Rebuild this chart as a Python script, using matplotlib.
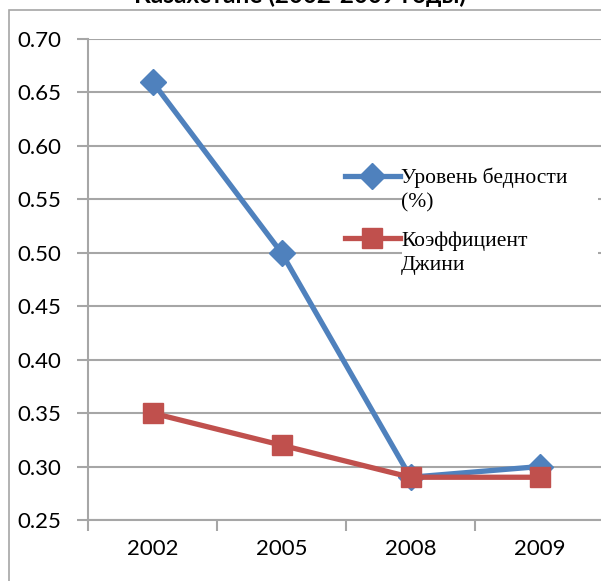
import matplotlib.pyplot as plt
from matplotlib.patches import Rectangle

years = ['2002', '2005', '2008', '2009']
poverty = [0.66, 0.50, 0.29, 0.30]
gini = [0.35, 0.32, 0.29, 0.29]
yticks = [0.25, 0.30, 0.35, 0.40, 0.45, 0.50, 0.55, 0.60, 0.65, 0.70]
labels = [('Уровень бедности', '(%)'), ('Коэффициент', 'Джини')]

blue = '#4F81BD'
red = '#C0504D'
grid = '#A6A6A6'

plt.rcParams['font.family'] = ['Lato', 'DejaVu Sans']

fig = plt.figure(figsize=(6.01, 5.81), dpi=100)
ax = fig.add_axes([88 / 601, 1 - 520 / 581, 516 / 601, 481 / 581])

x = list(range(len(years)))
ax.plot(x, poverty, color=blue, lw=3.8, marker='D', ms=13.5, label=labels[0][0], zorder=3)
ax.plot(x, gini, color=red, lw=3.8, marker='s', ms=14.5, label=labels[1][0], zorder=3)

ax.set_xlim(-0.5, 3.5)
ax.set_ylim(0.25, 0.70)
ax.set_yticks(yticks)
ax.set_yticklabels(['%.2f' % v for v in yticks])
ax.set_xticks([-0.5, 0.5, 1.5, 2.5, 3.5])
ax.set_xticklabels([])
ax.set_xticks(x, minor=True)
ax.set_xticklabels(years, minor=True)
ax.tick_params(axis='x', which='minor', length=0, pad=14, labelsize=16)
ax.tick_params(axis='x', which='major', length=8, width=1.5, color=grid)
ax.tick_params(axis='y', length=8, width=1.5, color=grid, labelsize=16, pad=11)
ax.yaxis.grid(True, color=grid, lw=1.5)
ax.set_axisbelow(True)
for s in ['top', 'right']:
    ax.spines[s].set_visible(False)
for s in ['left', 'bottom']:
    ax.spines[s].set_color(grid)
    ax.spines[s].set_linewidth(1.5)

# white area behind the legend text (gridlines hidden there)
x0, x1 = ax.transAxes.inverted().transform([(402, 581 - 290), (598, 581 - 152)])
ax.add_patch(Rectangle(x0, x1[0] - x0[0], x1[1] - x0[1], transform=ax.transAxes,
                       facecolor='white', edgecolor='none', zorder=1))

leg = ax.legend(loc='upper left', bbox_to_anchor=(345 / 601, 1 - 168 / 581),
                bbox_transform=fig.transFigure, frameon=False,
                handlelength=2.55, handletextpad=0.05,
                labelspacing=1.95, borderpad=0, borderaxespad=0,
                prop={'family': 'Liberation Serif', 'size': 15.5})

# second lines of the legend labels, under the first lines
fig.canvas.draw()
r = fig.canvas.get_renderer()
for t, (_, second) in zip(leg.get_texts(), labels):
    bb = t.get_window_extent(r)
    fig.text(bb.x0 / 601, (bb.y0 - 24) / 581, second, ha='left', va='bottom',
             family='Liberation Serif', fontsize=15.5)

fig.patches.append(Rectangle((9 / 601, -0.1), 1.2, 1 - 10 / 581 + 0.1,
                             transform=fig.transFigure, fill=False,
                             edgecolor='#A6A6A6', lw=1.2))
fig.text(0.5, 1 - 3 / 581, 'Уровень бедности и коэффициент Джини в\nКазахстане (2002-2009 годы)',
         ha='center', va='baseline', fontsize=17.5, fontweight='bold')

fig.savefig('out.png', dpi=100)
